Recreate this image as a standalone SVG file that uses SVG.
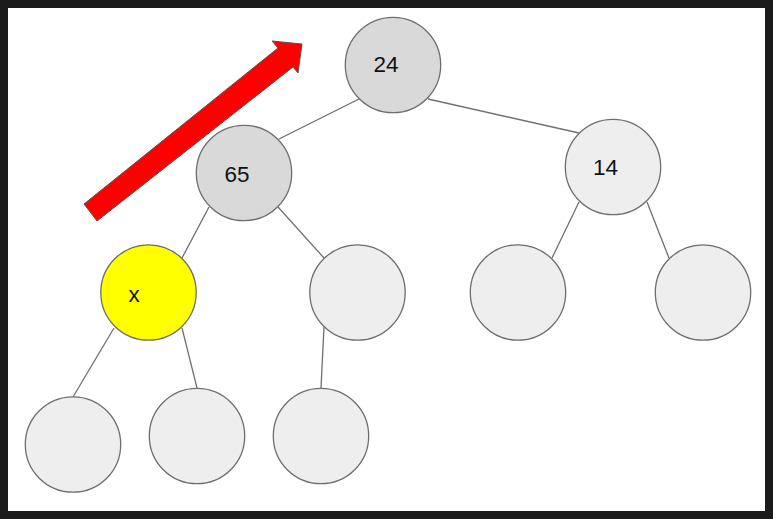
<svg xmlns="http://www.w3.org/2000/svg" width="773" height="519" viewBox="0 0 773 519">
  <style>
    .node { stroke: #6e6e6e; stroke-width: 1.3; }
    .dark { fill: #d9d9d9; }
    .light { fill: #eeeeee; }
    .hi { fill: #ffff00; }
    .edge { stroke: #707070; stroke-width: 1.3; fill: none; }
    .lbl { font-family: "Liberation Sans", Arial, sans-serif; font-size: 22.5px; fill: #111; text-anchor: middle; }
  </style>
  <rect x="0" y="0" width="773" height="519" fill="#1b1b1b"/>
  <rect x="8" y="8" width="757" height="503" fill="#ffffff"/>

  <g id="connectors">
    <line class="edge" x1="359" y1="99" x2="279" y2="139"/>
    <line class="edge" x1="428" y1="99" x2="579" y2="133"/>
    <line class="edge" x1="209" y1="207" x2="182" y2="258"/>
    <line class="edge" x1="278" y1="207" x2="324" y2="258"/>
    <line class="edge" x1="579" y1="202" x2="552" y2="258"/>
    <line class="edge" x1="647" y1="202" x2="669" y2="258"/>
    <line class="edge" x1="114" y1="328" x2="73" y2="397"/>
    <line class="edge" x1="182" y1="328" x2="197" y2="388"/>
    <line class="edge" x1="324" y1="327" x2="321" y2="388"/>
  </g>

  <g id="arrow">
    <polygon points="84,204 278,48 272,41 302,44 298,73 293,67 97,221" fill="#ff0000" stroke="#555" stroke-width="1"/>
  </g>

  <g id="n24">
    <circle class="node dark" cx="393" cy="65" r="47.7"/>
    <text class="lbl" x="386" y="72.3">24</text>
  </g>
  <g id="n65">
    <circle class="node dark" cx="244" cy="173" r="47.7"/>
    <text class="lbl" x="237" y="182.3">65</text>
  </g>
  <g id="n14">
    <circle class="node light" cx="613" cy="167" r="47.7"/>
    <text class="lbl" x="605.5" y="175">14</text>
  </g>
  <g id="nx">
    <circle class="node hi" cx="148.5" cy="292.5" r="47.7"/>
    <text class="lbl" x="134" y="302">x</text>
  </g>
  <g id="n65r">
    <circle class="node light" cx="357.5" cy="292.5" r="47.7"/>
  </g>
  <g id="n14l">
    <circle class="node light" cx="518" cy="292.5" r="47.7"/>
  </g>
  <g id="n14r">
    <circle class="node light" cx="703" cy="292.5" r="47.7"/>
  </g>
  <g id="nxl">
    <circle class="node light" cx="73" cy="444.5" r="47.7"/>
  </g>
  <g id="nxr">
    <circle class="node light" cx="197" cy="436" r="47.7"/>
  </g>
  <g id="n65rl">
    <circle class="node light" cx="321" cy="436" r="47.7"/>
  </g>
</svg>
